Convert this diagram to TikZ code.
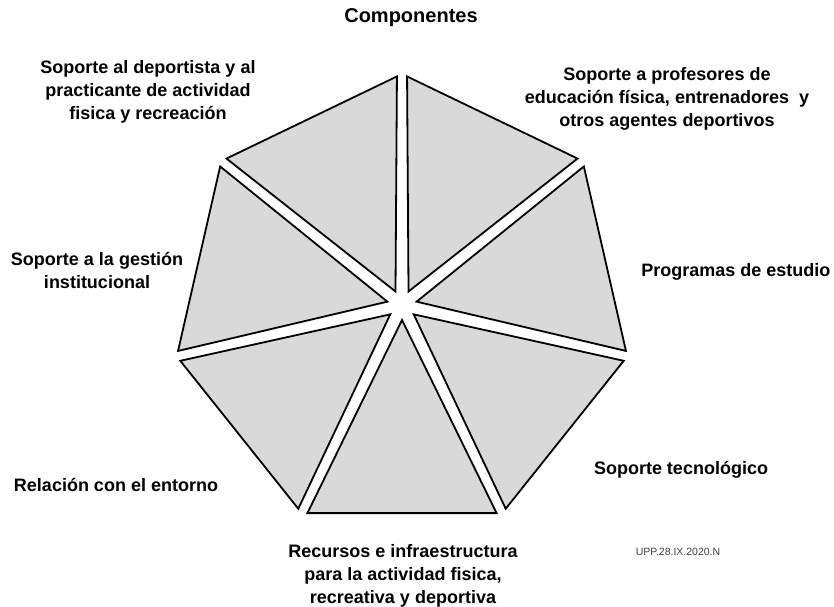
\documentclass[tikz,border=0pt]{standalone}
\usepackage{fontspec}
\setmainfont{Liberation Sans}
\usetikzlibrary{calc}

\definecolor{sliceGray}{RGB}{217,217,217}

\begin{document}
\begin{tikzpicture}[x=1pt,y=1pt]

\tikzstyle{every node}=[font=\bfseries\fontsize{18}{23}\selectfont, align=center]
\tikzstyle{slice}=[draw=black, line width=1.8pt, fill=sliceGray, line join=miter]

\useasboundingbox (0,0) rectangle (834,606);

\pgfmathsetmacro\rad{231}
\pgfmathsetmacro\tip{15}
\pgfmathsetmacro\cut{0.028}

\coordinate (c) at (402,301);
\coordinate (v1) at ($(c)+(90:\rad)$);
\coordinate (v2) at ($(c)+(38.57:\rad)$);
\coordinate (v3) at ($(c)+(-12.86:\rad)$);
\coordinate (v4) at ($(c)+(-64.29:\rad)$);
\coordinate (v5) at ($(c)+(-115.71:\rad)$);
\coordinate (v6) at ($(c)+(-167.14:\rad)$);
\coordinate (v7) at ($(c)+(141.43:\rad)$);

% the seven slices, pushed apart a little
\filldraw[slice] ($(c)+(64.29:\tip)$) -- ($(v1)!\cut!(v2)$) -- ($(v2)!\cut!(v1)$) -- cycle;
\filldraw[slice] ($(c)+(12.86:\tip)$) -- ($(v2)!\cut!(v3)$) -- ($(v3)!\cut!(v2)$) -- cycle;
\filldraw[slice] ($(c)+(-38.57:\tip)$) -- ($(v3)!\cut!(v4)$) -- ($(v4)!\cut!(v3)$) -- cycle;
\filldraw[slice] ($(c)+(-90:\tip)$) -- ($(v4)!\cut!(v5)$) -- ($(v5)!\cut!(v4)$) -- cycle;
\filldraw[slice] ($(c)+(-141.43:\tip)$) -- ($(v5)!\cut!(v6)$) -- ($(v6)!\cut!(v5)$) -- cycle;
\filldraw[slice] ($(c)+(167.14:\tip)$) -- ($(v6)!\cut!(v7)$) -- ($(v7)!\cut!(v6)$) -- cycle;
\filldraw[slice] ($(c)+(115.71:\tip)$) -- ($(v7)!\cut!(v1)$) -- ($(v1)!\cut!(v7)$) -- cycle;

\node[font=\bfseries\fontsize{20}{24}\selectfont] (title) at (411,588) {Componentes};

\node (deportista) at (148,514) {Soporte al deportista y al\\practicante\ de actividad\\fisica y recreación};
\node (profesores) at (667,507) {Soporte a profesores de\\educación física, entrenadores\ \ y\\otros agentes deportivos};
\node[anchor=east] (programas) at (834,334) {Programas de estudio};
\node (gestion) at (97,336) {Soporte a la gestión\\institucional};
\node (tecnologico) at (681,136) {Soporte tecnológico};
\node (entorno) at (116,121) {Relación con el entorno};
\node (recursos) at (403,30) {Recursos e infraestructura\\para la actividad fisica,\\recreativa y deportiva};

\node[font=\fontsize{10.5}{12}\selectfont, text=black!75] (firma) at (678,54) {UPP.28.IX.2020.N};

\end{tikzpicture}
\end{document}
